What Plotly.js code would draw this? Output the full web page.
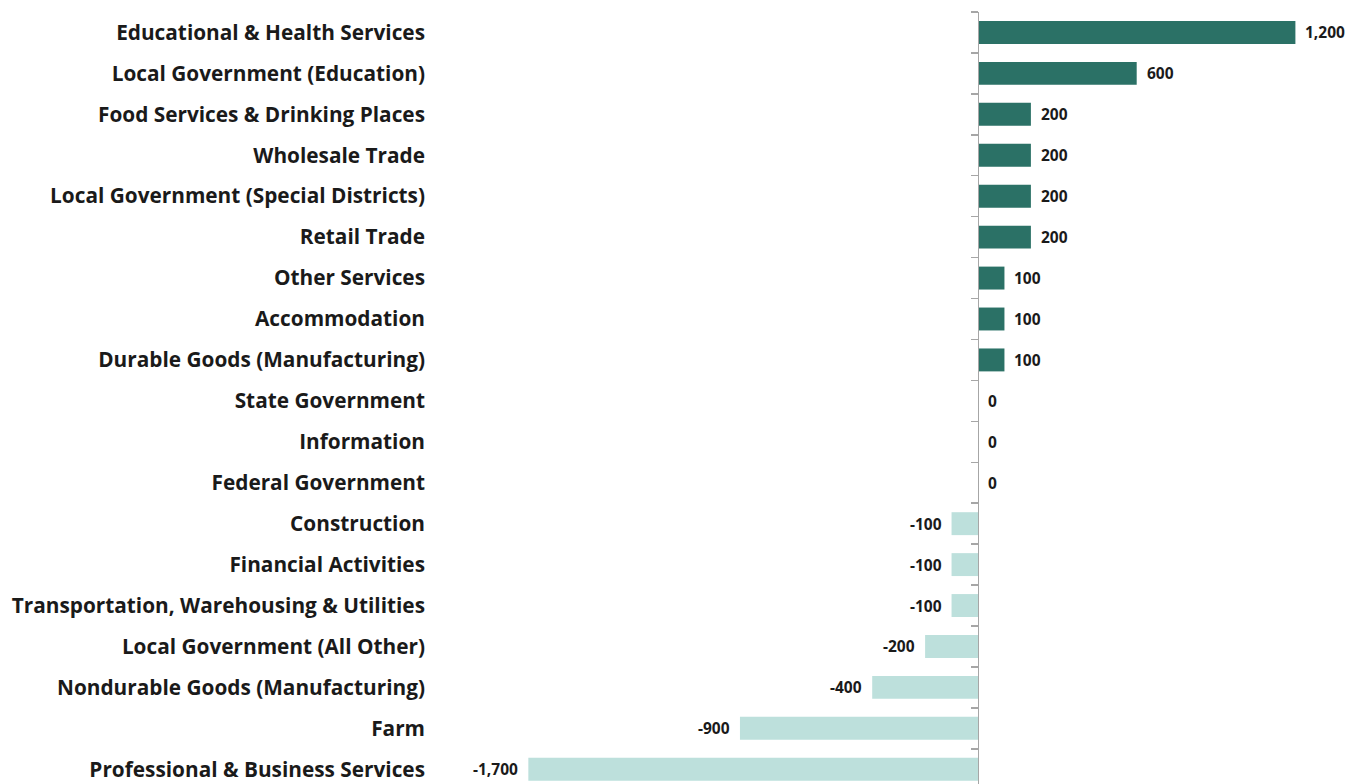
<!DOCTYPE html>
<html>
<head>
<meta charset="utf-8">
<script src="https://cdn.plot.ly/plotly-3.0.1.min.js"></script>
<style>html,body{margin:0;padding:0;background:#fff;}#chart{width:1361px;height:784px;}</style>
</head>
<body>
<div id="chart"></div>
<script>
const categories = [
  "Educational & Health Services",
  "Local Government (Education)",
  "Food Services & Drinking Places",
  "Wholesale Trade",
  "Local Government (Special Districts)",
  "Retail Trade",
  "Other Services",
  "Accommodation",
  "Durable Goods (Manufacturing)",
  "State Government",
  "Information",
  "Federal Government",
  "Construction",
  "Financial Activities",
  "Transportation, Warehousing & Utilities",
  "Local Government (All Other)",
  "Nondurable Goods (Manufacturing)",
  "Farm",
  "Professional & Business Services"
];
const values = [1200, 600, 200, 200, 200, 200, 100, 100, 100, 0, 0, 0, -100, -100, -100, -200, -400, -900, -1700];

const xRange = [-2034, 1448];
const posColor = "#2b7166";
const negColor = "#bde0dc";

const bar = {
  type: "bar",
  orientation: "h",
  x: values,
  y: categories,
  width: 0.56,
  marker: {color: values.map(v => v >= 0 ? posColor : negColor)},
  hoverinfo: "skip"
};
const ghost = {
  type: "scatter",
  mode: "markers",
  x: values,
  y: categories,
  yaxis: "y2",
  marker: {opacity: 0},
  hoverinfo: "skip",
  showlegend: false
};

const annotations = values.map((v, i) => ({
  x: v,
  y: categories[i],
  xref: "x",
  yref: "y",
  text: v.toLocaleString("en-US"),
  showarrow: false,
  xanchor: v < 0 ? "right" : "left",
  xshift: v < 0 ? -8 : 8,
  font: {family: "'Open Sans', sans-serif", size: 15.5, color: "#1a1a1a", weight: "bold"}
}));

const zeroPos = (0 - xRange[0]) / (xRange[1] - xRange[0]);

const layout = {
  width: 1361,
  height: 784,
  margin: {l: 440, r: 0, t: 12, b: 0, pad: 0},
  paper_bgcolor: "#ffffff",
  plot_bgcolor: "#ffffff",
  showlegend: false,
  xaxis: {
    range: xRange,
    showgrid: false,
    zeroline: false,
    showticklabels: false,
    showline: false,
    ticks: ""
  },
  yaxis: {
    type: "category",
    categoryorder: "array",
    categoryarray: categories,
    range: [18.36, -0.5],
    showgrid: false,
    zeroline: false,
    showline: false,
    ticks: "",
    ticklabelstandoff: 14,
    tickfont: {family: "'Open Sans', sans-serif", size: 20.8, color: "#1a1a1a", weight: "bold"}
  },
  yaxis2: {
    type: "category",
    categoryorder: "array",
    categoryarray: categories,
    matches: "y",
    overlaying: "y",
    anchor: "free",
    position: zeroPos,
    side: "left",
    showgrid: false,
    zeroline: false,
    showline: true,
    linecolor: "#a6a6a6",
    linewidth: 1.5,
    ticks: "outside",
    tickson: "boundaries",
    ticklen: 7,
    tickcolor: "#a6a6a6",
    tickwidth: 1.5,
    showticklabels: false
  },
  annotations: annotations
};

Plotly.newPlot("chart", [bar, ghost], layout, {displayModeBar: false, staticPlot: true});
</script>
</body>
</html>
